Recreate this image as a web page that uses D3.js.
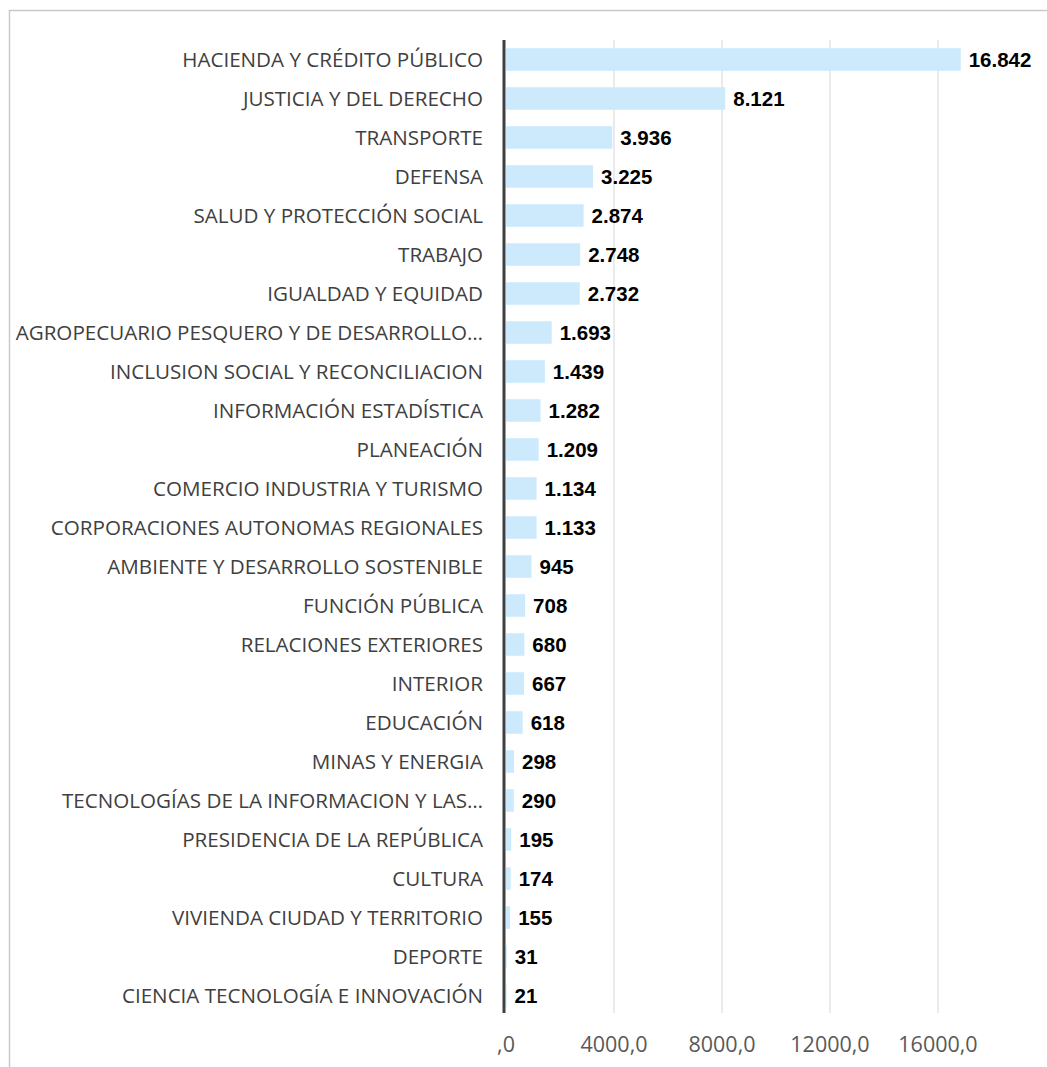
<!DOCTYPE html>
<html><head><meta charset="utf-8">
<script src="https://cdn.jsdelivr.net/npm/d3@7"></script>
<style>body{margin:0;background:#fff}svg{display:block}</style>
</head><body>
<script>
const categories = ["HACIENDA Y CRÉDITO PÚBLICO","JUSTICIA Y DEL DERECHO","TRANSPORTE","DEFENSA","SALUD Y PROTECCIÓN SOCIAL","TRABAJO","IGUALDAD Y EQUIDAD","AGROPECUARIO PESQUERO Y DE DESARROLLO…","INCLUSION SOCIAL Y RECONCILIACION","INFORMACIÓN ESTADÍSTICA","PLANEACIÓN","COMERCIO INDUSTRIA Y TURISMO","CORPORACIONES AUTONOMAS REGIONALES","AMBIENTE Y DESARROLLO SOSTENIBLE","FUNCIÓN PÚBLICA","RELACIONES EXTERIORES","INTERIOR","EDUCACIÓN","MINAS Y ENERGIA","TECNOLOGÍAS DE LA INFORMACION Y LAS…","PRESIDENCIA DE LA REPÚBLICA","CULTURA","VIVIENDA CIUDAD Y TERRITORIO","DEPORTE","CIENCIA TECNOLOGÍA E INNOVACIÓN"];
const values = [16842,8121,3936,3225,2874,2748,2732,1693,1439,1282,1209,1134,1133,945,708,680,667,618,298,290,195,174,155,31,21];
const tickValues = [0,4000,8000,12000,16000];
const tickLabels = [",0","4000,0","8000,0","12000,0","16000,0"];

const W=1047,H=1067;
const svg=d3.select("body").append("svg").attr("width",W).attr("height",H);
svg.append("rect").attr("x",9.5).attr("y",10.5).attr("width",W+10).attr("height",H+10)
  .attr("fill","#fff").attr("stroke","#c9c9c9").attr("stroke-width",1.5);

const x0=506;
const x=d3.scaleLinear().domain([0,16000]).range([x0,x0+432]);
const y=d3.scaleBand().domain(categories).range([40,1015]).paddingInner(0.42).paddingOuter(0.21);

// gridlines
svg.append("g").selectAll("line").data(tickValues.slice(1)).join("line")
  .attr("x1",d=>x(d)).attr("x2",d=>x(d)).attr("y1",40).attr("y2",1013)
  .attr("stroke","#e3e3e3").attr("stroke-width",1.5);

// bars
svg.append("g").selectAll("rect").data(values).join("rect")
  .attr("x",x(0)).attr("y",(d,i)=>y(categories[i]))
  .attr("width",d=>x(d)-x(0)).attr("height",y.bandwidth())
  .attr("fill","#cdeafd");

// axis line
svg.append("line").attr("x1",504).attr("x2",504).attr("y1",40).attr("y2",1013)
  .attr("stroke","#404040").attr("stroke-width",3);

// category labels
svg.append("g").selectAll("text").data(categories).join("text")
  .attr("x",483).attr("y",d=>y(d)+y.bandwidth()/2).attr("dy","0.36em")
  .attr("text-anchor","end").attr("font-family","'Open Sans'").attr("font-size",20.6)
  .attr("fill","#404040").text(d=>d);

// value labels
const fmt=d3.formatLocale({decimal:",",thousands:".",grouping:[3]}).format(",d");
svg.append("g").selectAll("text").data(values).join("text")
  .attr("x",d=>x(d)+8).attr("y",(d,i)=>y(categories[i])+y.bandwidth()/2).attr("dy","0.37em")
  .attr("font-family","'Liberation Sans',Arial").attr("font-weight","bold").attr("font-size",20.5)
  .attr("fill","#000").text(d=>fmt(d));

// tick labels
svg.append("g").selectAll("text").data(tickValues).join("text")
  .attr("x",d=>x(d)).attr("y",1052).attr("text-anchor","middle")
  .attr("font-family","'Open Sans'").attr("font-size",21.5).attr("fill","#595959")
  .text((d,i)=>tickLabels[i]);
</script>
</body></html>
